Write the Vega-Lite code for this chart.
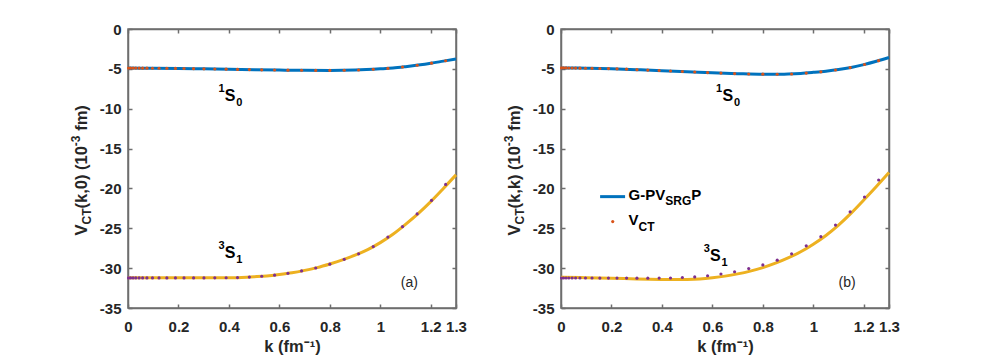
{
  "$schema": "https://vega.github.io/schema/vega-lite/v6.json",
  "padding": {"left": 69, "top": 21, "right": 5, "bottom": 5},
  "background": "white",
  "spacing": 34,
  "config": {
    "view": {"stroke": "#6e6e6e", "strokeWidth": 1.5},
    "font": "Liberation Sans",
    "axis": {
      "grid": false,
      "domain": true,
      "domainColor": "#6e6e6e",
      "domainWidth": 1.5,
      "ticks": true,
      "tickColor": "#6e6e6e",
      "tickWidth": 1.5,
      "tickSize": -4,
      "labelOverlap": false,
      "labelFlush": false,
      "labelFont": "Liberation Sans",
      "labelFontSize": 15,
      "labelFontWeight": "bold",
      "labelColor": "#262626",
      "titleFont": "Liberation Sans",
      "titleFontSize": 16.5,
      "titleFontWeight": "bold",
      "titleColor": "#262626"
    }
  },
  "datasets": {
    "curves": [
      {"panel": "a", "state": "1S0", "k": 0, "v": -4.9},
      {"panel": "a", "state": "1S0", "k": 0.1, "v": -4.92},
      {"panel": "a", "state": "1S0", "k": 0.2, "v": -4.95},
      {"panel": "a", "state": "1S0", "k": 0.3, "v": -5.0},
      {"panel": "a", "state": "1S0", "k": 0.4, "v": -5.05},
      {"panel": "a", "state": "1S0", "k": 0.5, "v": -5.1},
      {"panel": "a", "state": "1S0", "k": 0.6, "v": -5.15},
      {"panel": "a", "state": "1S0", "k": 0.7, "v": -5.19},
      {"panel": "a", "state": "1S0", "k": 0.8, "v": -5.2},
      {"panel": "a", "state": "1S0", "k": 0.9, "v": -5.15},
      {"panel": "a", "state": "1S0", "k": 1.0, "v": -5.0},
      {"panel": "a", "state": "1S0", "k": 1.05, "v": -4.9},
      {"panel": "a", "state": "1S0", "k": 1.1, "v": -4.73},
      {"panel": "a", "state": "1S0", "k": 1.15, "v": -4.53},
      {"panel": "a", "state": "1S0", "k": 1.2, "v": -4.3},
      {"panel": "a", "state": "1S0", "k": 1.25, "v": -4.03},
      {"panel": "a", "state": "1S0", "k": 1.3, "v": -3.76},
      {"panel": "a", "state": "3S1", "k": 0, "v": -31.2},
      {"panel": "a", "state": "3S1", "k": 0.2, "v": -31.2},
      {"panel": "a", "state": "3S1", "k": 0.4, "v": -31.2},
      {"panel": "a", "state": "3S1", "k": 0.45, "v": -31.16},
      {"panel": "a", "state": "3S1", "k": 0.5, "v": -31.08},
      {"panel": "a", "state": "3S1", "k": 0.55, "v": -30.98},
      {"panel": "a", "state": "3S1", "k": 0.6, "v": -30.8},
      {"panel": "a", "state": "3S1", "k": 0.65, "v": -30.58},
      {"panel": "a", "state": "3S1", "k": 0.7, "v": -30.28},
      {"panel": "a", "state": "3S1", "k": 0.75, "v": -29.93},
      {"panel": "a", "state": "3S1", "k": 0.8, "v": -29.48},
      {"panel": "a", "state": "3S1", "k": 0.85, "v": -28.97},
      {"panel": "a", "state": "3S1", "k": 0.9, "v": -28.38},
      {"panel": "a", "state": "3S1", "k": 0.95, "v": -27.68},
      {"panel": "a", "state": "3S1", "k": 1.0, "v": -26.8},
      {"panel": "a", "state": "3S1", "k": 1.05, "v": -25.75},
      {"panel": "a", "state": "3S1", "k": 1.1, "v": -24.5},
      {"panel": "a", "state": "3S1", "k": 1.15, "v": -23.15},
      {"panel": "a", "state": "3S1", "k": 1.2, "v": -21.65},
      {"panel": "a", "state": "3S1", "k": 1.25, "v": -20.0},
      {"panel": "a", "state": "3S1", "k": 1.3, "v": -18.3},
      {"panel": "b", "state": "1S0", "k": 0, "v": -4.88},
      {"panel": "b", "state": "1S0", "k": 0.1, "v": -4.92},
      {"panel": "b", "state": "1S0", "k": 0.2, "v": -4.98},
      {"panel": "b", "state": "1S0", "k": 0.3, "v": -5.1},
      {"panel": "b", "state": "1S0", "k": 0.4, "v": -5.23},
      {"panel": "b", "state": "1S0", "k": 0.5, "v": -5.36},
      {"panel": "b", "state": "1S0", "k": 0.6, "v": -5.5},
      {"panel": "b", "state": "1S0", "k": 0.7, "v": -5.6},
      {"panel": "b", "state": "1S0", "k": 0.8, "v": -5.68},
      {"panel": "b", "state": "1S0", "k": 0.85, "v": -5.69},
      {"panel": "b", "state": "1S0", "k": 0.9, "v": -5.65},
      {"panel": "b", "state": "1S0", "k": 0.95, "v": -5.57},
      {"panel": "b", "state": "1S0", "k": 1.0, "v": -5.44},
      {"panel": "b", "state": "1S0", "k": 1.05, "v": -5.29},
      {"panel": "b", "state": "1S0", "k": 1.1, "v": -5.09},
      {"panel": "b", "state": "1S0", "k": 1.15, "v": -4.82},
      {"panel": "b", "state": "1S0", "k": 1.2, "v": -4.47},
      {"panel": "b", "state": "1S0", "k": 1.25, "v": -4.05},
      {"panel": "b", "state": "1S0", "k": 1.3, "v": -3.58},
      {"panel": "b", "state": "3S1", "k": 0, "v": -31.15},
      {"panel": "b", "state": "3S1", "k": 0.1, "v": -31.2},
      {"panel": "b", "state": "3S1", "k": 0.2, "v": -31.27},
      {"panel": "b", "state": "3S1", "k": 0.3, "v": -31.35},
      {"panel": "b", "state": "3S1", "k": 0.4, "v": -31.42},
      {"panel": "b", "state": "3S1", "k": 0.45, "v": -31.44},
      {"panel": "b", "state": "3S1", "k": 0.5, "v": -31.42},
      {"panel": "b", "state": "3S1", "k": 0.55, "v": -31.35},
      {"panel": "b", "state": "3S1", "k": 0.6, "v": -31.2},
      {"panel": "b", "state": "3S1", "k": 0.65, "v": -31.0},
      {"panel": "b", "state": "3S1", "k": 0.7, "v": -30.72},
      {"panel": "b", "state": "3S1", "k": 0.75, "v": -30.37},
      {"panel": "b", "state": "3S1", "k": 0.8, "v": -29.93},
      {"panel": "b", "state": "3S1", "k": 0.85, "v": -29.38},
      {"panel": "b", "state": "3S1", "k": 0.9, "v": -28.72},
      {"panel": "b", "state": "3S1", "k": 0.95, "v": -27.95},
      {"panel": "b", "state": "3S1", "k": 1.0, "v": -27.0},
      {"panel": "b", "state": "3S1", "k": 1.05, "v": -25.9},
      {"panel": "b", "state": "3S1", "k": 1.1, "v": -24.6},
      {"panel": "b", "state": "3S1", "k": 1.15, "v": -23.1},
      {"panel": "b", "state": "3S1", "k": 1.2, "v": -21.45},
      {"panel": "b", "state": "3S1", "k": 1.25, "v": -19.75},
      {"panel": "b", "state": "3S1", "k": 1.3, "v": -18.0}
    ],
    "dots": [
      {"panel": "a", "state": "1S0", "k": 0.002, "v": -4.9},
      {"panel": "a", "state": "1S0", "k": 0.01, "v": -4.9},
      {"panel": "a", "state": "1S0", "k": 0.02, "v": -4.9},
      {"panel": "a", "state": "1S0", "k": 0.031, "v": -4.9},
      {"panel": "a", "state": "1S0", "k": 0.044, "v": -4.9},
      {"panel": "a", "state": "1S0", "k": 0.058, "v": -4.91},
      {"panel": "a", "state": "1S0", "k": 0.075, "v": -4.91},
      {"panel": "a", "state": "1S0", "k": 0.097, "v": -4.92},
      {"panel": "a", "state": "1S0", "k": 0.123, "v": -4.92},
      {"panel": "a", "state": "1S0", "k": 0.154, "v": -4.93},
      {"panel": "a", "state": "1S0", "k": 0.188, "v": -4.94},
      {"panel": "a", "state": "1S0", "k": 0.222, "v": -4.96},
      {"panel": "a", "state": "1S0", "k": 0.26, "v": -4.98},
      {"panel": "a", "state": "1S0", "k": 0.301, "v": -5.0},
      {"panel": "a", "state": "1S0", "k": 0.344, "v": -5.02},
      {"panel": "a", "state": "1S0", "k": 0.389, "v": -5.04},
      {"panel": "a", "state": "1S0", "k": 0.434, "v": -5.07},
      {"panel": "a", "state": "1S0", "k": 0.481, "v": -5.09},
      {"panel": "a", "state": "1S0", "k": 0.53, "v": -5.12},
      {"panel": "a", "state": "1S0", "k": 0.581, "v": -5.14},
      {"panel": "a", "state": "1S0", "k": 0.634, "v": -5.16},
      {"panel": "a", "state": "1S0", "k": 0.688, "v": -5.18},
      {"panel": "a", "state": "1S0", "k": 0.744, "v": -5.2},
      {"panel": "a", "state": "1S0", "k": 0.8, "v": -5.2},
      {"panel": "a", "state": "1S0", "k": 0.857, "v": -5.18},
      {"panel": "a", "state": "1S0", "k": 0.914, "v": -5.14},
      {"panel": "a", "state": "1S0", "k": 0.972, "v": -5.05},
      {"panel": "a", "state": "1S0", "k": 1.03, "v": -4.94},
      {"panel": "a", "state": "1S0", "k": 1.088, "v": -4.77},
      {"panel": "a", "state": "1S0", "k": 1.146, "v": -4.55},
      {"panel": "a", "state": "1S0", "k": 1.203, "v": -4.29},
      {"panel": "a", "state": "1S0", "k": 1.259, "v": -3.98},
      {"panel": "a", "state": "3S1", "k": 0.002, "v": -31.23},
      {"panel": "a", "state": "3S1", "k": 0.01, "v": -31.23},
      {"panel": "a", "state": "3S1", "k": 0.02, "v": -31.23},
      {"panel": "a", "state": "3S1", "k": 0.031, "v": -31.23},
      {"panel": "a", "state": "3S1", "k": 0.044, "v": -31.23},
      {"panel": "a", "state": "3S1", "k": 0.058, "v": -31.23},
      {"panel": "a", "state": "3S1", "k": 0.075, "v": -31.23},
      {"panel": "a", "state": "3S1", "k": 0.097, "v": -31.23},
      {"panel": "a", "state": "3S1", "k": 0.123, "v": -31.23},
      {"panel": "a", "state": "3S1", "k": 0.154, "v": -31.23},
      {"panel": "a", "state": "3S1", "k": 0.188, "v": -31.23},
      {"panel": "a", "state": "3S1", "k": 0.222, "v": -31.23},
      {"panel": "a", "state": "3S1", "k": 0.26, "v": -31.23},
      {"panel": "a", "state": "3S1", "k": 0.301, "v": -31.23},
      {"panel": "a", "state": "3S1", "k": 0.344, "v": -31.22},
      {"panel": "a", "state": "3S1", "k": 0.389, "v": -31.21},
      {"panel": "a", "state": "3S1", "k": 0.434, "v": -31.18},
      {"panel": "a", "state": "3S1", "k": 0.481, "v": -31.12},
      {"panel": "a", "state": "3S1", "k": 0.53, "v": -31.02},
      {"panel": "a", "state": "3S1", "k": 0.581, "v": -30.88},
      {"panel": "a", "state": "3S1", "k": 0.634, "v": -30.65},
      {"panel": "a", "state": "3S1", "k": 0.688, "v": -30.35},
      {"panel": "a", "state": "3S1", "k": 0.744, "v": -29.98},
      {"panel": "a", "state": "3S1", "k": 0.8, "v": -29.5},
      {"panel": "a", "state": "3S1", "k": 0.857, "v": -28.9},
      {"panel": "a", "state": "3S1", "k": 0.914, "v": -28.2},
      {"panel": "a", "state": "3S1", "k": 0.972, "v": -27.3},
      {"panel": "a", "state": "3S1", "k": 1.03, "v": -26.1},
      {"panel": "a", "state": "3S1", "k": 1.088, "v": -24.8},
      {"panel": "a", "state": "3S1", "k": 1.146, "v": -23.2},
      {"panel": "a", "state": "3S1", "k": 1.203, "v": -21.5},
      {"panel": "a", "state": "3S1", "k": 1.259, "v": -19.5},
      {"panel": "b", "state": "1S0", "k": 0.002, "v": -4.88},
      {"panel": "b", "state": "1S0", "k": 0.01, "v": -4.88},
      {"panel": "b", "state": "1S0", "k": 0.02, "v": -4.88},
      {"panel": "b", "state": "1S0", "k": 0.031, "v": -4.89},
      {"panel": "b", "state": "1S0", "k": 0.044, "v": -4.89},
      {"panel": "b", "state": "1S0", "k": 0.058, "v": -4.9},
      {"panel": "b", "state": "1S0", "k": 0.075, "v": -4.91},
      {"panel": "b", "state": "1S0", "k": 0.097, "v": -4.92},
      {"panel": "b", "state": "1S0", "k": 0.123, "v": -4.93},
      {"panel": "b", "state": "1S0", "k": 0.154, "v": -4.95},
      {"panel": "b", "state": "1S0", "k": 0.188, "v": -4.97},
      {"panel": "b", "state": "1S0", "k": 0.222, "v": -5.0},
      {"panel": "b", "state": "1S0", "k": 0.26, "v": -5.04},
      {"panel": "b", "state": "1S0", "k": 0.301, "v": -5.1},
      {"panel": "b", "state": "1S0", "k": 0.344, "v": -5.15},
      {"panel": "b", "state": "1S0", "k": 0.389, "v": -5.21},
      {"panel": "b", "state": "1S0", "k": 0.434, "v": -5.27},
      {"panel": "b", "state": "1S0", "k": 0.481, "v": -5.33},
      {"panel": "b", "state": "1S0", "k": 0.53, "v": -5.39},
      {"panel": "b", "state": "1S0", "k": 0.581, "v": -5.47},
      {"panel": "b", "state": "1S0", "k": 0.634, "v": -5.53},
      {"panel": "b", "state": "1S0", "k": 0.688, "v": -5.59},
      {"panel": "b", "state": "1S0", "k": 0.744, "v": -5.64},
      {"panel": "b", "state": "1S0", "k": 0.8, "v": -5.67},
      {"panel": "b", "state": "1S0", "k": 0.857, "v": -5.68},
      {"panel": "b", "state": "1S0", "k": 0.914, "v": -5.64},
      {"panel": "b", "state": "1S0", "k": 0.972, "v": -5.53},
      {"panel": "b", "state": "1S0", "k": 1.03, "v": -5.37},
      {"panel": "b", "state": "1S0", "k": 1.088, "v": -5.14},
      {"panel": "b", "state": "1S0", "k": 1.146, "v": -4.84},
      {"panel": "b", "state": "1S0", "k": 1.203, "v": -4.45},
      {"panel": "b", "state": "1S0", "k": 1.259, "v": -3.97},
      {"panel": "b", "state": "3S1", "k": 0.002, "v": -31.24},
      {"panel": "b", "state": "3S1", "k": 0.01, "v": -31.24},
      {"panel": "b", "state": "3S1", "k": 0.02, "v": -31.24},
      {"panel": "b", "state": "3S1", "k": 0.031, "v": -31.24},
      {"panel": "b", "state": "3S1", "k": 0.044, "v": -31.24},
      {"panel": "b", "state": "3S1", "k": 0.058, "v": -31.24},
      {"panel": "b", "state": "3S1", "k": 0.075, "v": -31.24},
      {"panel": "b", "state": "3S1", "k": 0.097, "v": -31.24},
      {"panel": "b", "state": "3S1", "k": 0.123, "v": -31.24},
      {"panel": "b", "state": "3S1", "k": 0.154, "v": -31.25},
      {"panel": "b", "state": "3S1", "k": 0.188, "v": -31.25},
      {"panel": "b", "state": "3S1", "k": 0.222, "v": -31.25},
      {"panel": "b", "state": "3S1", "k": 0.26, "v": -31.25},
      {"panel": "b", "state": "3S1", "k": 0.301, "v": -31.26},
      {"panel": "b", "state": "3S1", "k": 0.344, "v": -31.26},
      {"panel": "b", "state": "3S1", "k": 0.389, "v": -31.25},
      {"panel": "b", "state": "3S1", "k": 0.434, "v": -31.24},
      {"panel": "b", "state": "3S1", "k": 0.481, "v": -31.17},
      {"panel": "b", "state": "3S1", "k": 0.53, "v": -31.1},
      {"panel": "b", "state": "3S1", "k": 0.581, "v": -30.95},
      {"panel": "b", "state": "3S1", "k": 0.634, "v": -30.73},
      {"panel": "b", "state": "3S1", "k": 0.688, "v": -30.45},
      {"panel": "b", "state": "3S1", "k": 0.744, "v": -30.06},
      {"panel": "b", "state": "3S1", "k": 0.8, "v": -29.6},
      {"panel": "b", "state": "3S1", "k": 0.857, "v": -29.0},
      {"panel": "b", "state": "3S1", "k": 0.914, "v": -28.2},
      {"panel": "b", "state": "3S1", "k": 0.972, "v": -27.2},
      {"panel": "b", "state": "3S1", "k": 1.03, "v": -26.05},
      {"panel": "b", "state": "3S1", "k": 1.088, "v": -24.6},
      {"panel": "b", "state": "3S1", "k": 1.146, "v": -22.94},
      {"panel": "b", "state": "3S1", "k": 1.203, "v": -21.07},
      {"panel": "b", "state": "3S1", "k": 1.259, "v": -18.94}
    ],
    "notes": [
      {"panel": "a", "k": 0.405, "v": -8.36, "main": "S", "sup": "1", "sub": "0"},
      {"panel": "a", "k": 0.405, "v": -28.14, "main": "S", "sup": "3", "sub": "1"},
      {"panel": "b", "k": 0.661, "v": -8.39, "main": "S", "sup": "1", "sub": "0"},
      {"panel": "b", "k": 0.612, "v": -28.45, "main": "S", "sup": "3", "sub": "1"}
    ],
    "tags": [
      {"panel": "a", "k": 1.115, "v": -31.9, "text": "(a)"},
      {"panel": "b", "k": 1.134, "v": -31.9, "text": "(b)"}
    ],
    "ytitle": [
      {"panel": "a", "k": -0.163, "v": -25.91, "p1": "V", "p2": "CT", "p3": "(k,0) (10", "p4": "-3", "p5": "fm)"},
      {"panel": "b", "k": -0.163, "v": -25.91, "p1": "V", "p2": "CT", "p3": "(k,k) (10", "p4": "-3", "p5": "fm)"}
    ],
    "legline": [
      {"k": 0.155, "v": -21.03},
      {"k": 0.254, "v": -21.03}
    ],
    "legdot": [
      {"k": 0.205, "v": -24.16}
    ],
    "legtext": [
      {"k": 0.268, "v": -20.82, "a": "G-PV", "b": "SRG", "c": "P"},
      {"k": 0.268, "v": -23.91, "a": "V", "b": "CT", "c": ""}
    ]
  },
  "hconcat": [
    {
      "width": 328,
      "height": 279,
      "resolve": {"axis": {"x": "independent", "y": "independent"}},
      "layer": [
        {
          "data": {"name": "curves"},
          "transform": [{"filter": "datum.panel == 'a'"}],
          "mark": {"type": "line", "strokeWidth": 3, "interpolate": "monotone"},
          "encoding": {
            "x": {"field": "k", "type": "quantitative", "scale": {"domain": [0, 1.3], "nice": false, "zero": false},
              "axis": {"orient": "bottom", "values": [0, 0.2, 0.4, 0.6, 0.8, 1, 1.2, 1.3], "labelExpr": "toString(datum.value)", "labelPadding": 15, "title": "k (fm⁻¹)", "titlePadding": 4}},
            "y": {"field": "v", "type": "quantitative", "scale": {"domain": [-35, 0], "nice": false, "zero": false},
              "axis": {"orient": "left", "values": [-35, -30, -25, -20, -15, -10, -5, 0], "labelExpr": "toString(datum.value)", "labelPadding": 11, "title": null}},
            "stroke": {"field": "state", "type": "nominal", "scale": {"domain": ["1S0", "3S1"], "range": ["#0072BD", "#EDB120"]}, "legend": null}
          }
        },
        {
          "data": {"name": "dots"},
          "transform": [{"filter": "datum.panel == 'a'"}],
          "mark": {"type": "point", "filled": true, "size": 10, "opacity": 1},
          "encoding": {
            "x": {"field": "k", "type": "quantitative", "axis": null},
            "y": {"field": "v", "type": "quantitative", "axis": null},
            "fill": {"field": "state", "type": "nominal", "scale": {"domain": ["1S0", "3S1"], "range": ["#D95319", "#7E2F8E"]}, "legend": null}
          }
        },
        {
          "data": {"name": "curves"},
          "transform": [{"filter": "datum.panel == 'a'"}],
          "mark": {"type": "point", "opacity": 0},
          "encoding": {
            "x": {"field": "k", "type": "quantitative",
              "axis": {"orient": "top", "values": [0, 0.2, 0.4, 0.6, 0.8, 1, 1.2, 1.3], "labels": false, "title": null}},
            "y": {"field": "v", "type": "quantitative",
              "axis": {"orient": "right", "values": [-35, -30, -25, -20, -15, -10, -5, 0], "labels": false, "title": null}}
          }
        },
        {
          "data": {"name": "notes"},
          "transform": [{"filter": "datum.panel == 'a'"}],
          "mark": {"type": "text", "fontSize": 16, "fontWeight": "bold", "color": "#000000", "align": "center", "baseline": "middle"},
          "encoding": {
            "x": {"field": "k", "type": "quantitative", "axis": null},
            "y": {"field": "v", "type": "quantitative", "axis": null},
            "text": {"field": "main"}
          }
        },
        {
          "data": {"name": "notes"},
          "transform": [{"filter": "datum.panel == 'a'"}],
          "mark": {"type": "text", "fontSize": 11, "fontWeight": "bold", "color": "#000000", "align": "center", "baseline": "middle", "dx": -8.7, "dy": -7},
          "encoding": {
            "x": {"field": "k", "type": "quantitative", "axis": null},
            "y": {"field": "v", "type": "quantitative", "axis": null},
            "text": {"field": "sup"}
          }
        },
        {
          "data": {"name": "notes"},
          "transform": [{"filter": "datum.panel == 'a'"}],
          "mark": {"type": "text", "fontSize": 11, "fontWeight": "bold", "color": "#000000", "align": "center", "baseline": "middle", "dx": 9.2, "dy": 7},
          "encoding": {
            "x": {"field": "k", "type": "quantitative", "axis": null},
            "y": {"field": "v", "type": "quantitative", "axis": null},
            "text": {"field": "sub"}
          }
        },
        {
          "data": {"name": "tags"},
          "transform": [{"filter": "datum.panel == 'a'"}],
          "mark": {"type": "text", "fontSize": 14, "color": "#262626", "align": "center", "baseline": "middle"},
          "encoding": {
            "x": {"field": "k", "type": "quantitative", "axis": null},
            "y": {"field": "v", "type": "quantitative", "axis": null},
            "text": {"field": "text"}
          }
        },
        {
          "data": {"name": "ytitle"},
          "transform": [{"filter": "datum.panel == 'a'"}],
          "mark": {"type": "text", "fontSize": 16.5, "fontWeight": "bold", "color": "#262626", "align": "left", "baseline": "alphabetic", "angle": 270},
          "encoding": {
            "x": {"field": "k", "type": "quantitative", "axis": null},
            "y": {"field": "v", "type": "quantitative", "axis": null},
            "text": {"field": "p1"}
          }
        },
        {
          "data": {"name": "ytitle"},
          "transform": [{"filter": "datum.panel == 'a'"}],
          "mark": {"type": "text", "fontSize": 12, "fontWeight": "bold", "color": "#262626", "align": "left", "baseline": "alphabetic", "angle": 270, "dx": 11, "dy": 4},
          "encoding": {
            "x": {"field": "k", "type": "quantitative", "axis": null},
            "y": {"field": "v", "type": "quantitative", "axis": null},
            "text": {"field": "p2"}
          }
        },
        {
          "data": {"name": "ytitle"},
          "transform": [{"filter": "datum.panel == 'a'"}],
          "mark": {"type": "text", "fontSize": 16.5, "fontWeight": "bold", "color": "#262626", "align": "left", "baseline": "alphabetic", "angle": 270, "dx": 27},
          "encoding": {
            "x": {"field": "k", "type": "quantitative", "axis": null},
            "y": {"field": "v", "type": "quantitative", "axis": null},
            "text": {"field": "p3"}
          }
        },
        {
          "data": {"name": "ytitle"},
          "transform": [{"filter": "datum.panel == 'a'"}],
          "mark": {"type": "text", "fontSize": 12, "fontWeight": "bold", "color": "#262626", "align": "left", "baseline": "alphabetic", "angle": 270, "dx": 89.4, "dy": -7},
          "encoding": {
            "x": {"field": "k", "type": "quantitative", "axis": null},
            "y": {"field": "v", "type": "quantitative", "axis": null},
            "text": {"field": "p4"}
          }
        },
        {
          "data": {"name": "ytitle"},
          "transform": [{"filter": "datum.panel == 'a'"}],
          "mark": {"type": "text", "fontSize": 16.5, "fontWeight": "bold", "color": "#262626", "align": "left", "baseline": "alphabetic", "angle": 270, "dx": 104.7},
          "encoding": {
            "x": {"field": "k", "type": "quantitative", "axis": null},
            "y": {"field": "v", "type": "quantitative", "axis": null},
            "text": {"field": "p5"}
          }
        }
      ]
    },
    {
      "width": 328,
      "height": 279,
      "resolve": {"axis": {"x": "independent", "y": "independent"}},
      "layer": [
        {
          "data": {"name": "curves"},
          "transform": [{"filter": "datum.panel == 'b'"}],
          "mark": {"type": "line", "strokeWidth": 3, "interpolate": "monotone"},
          "encoding": {
            "x": {"field": "k", "type": "quantitative", "scale": {"domain": [0, 1.3], "nice": false, "zero": false},
              "axis": {"orient": "bottom", "values": [0, 0.2, 0.4, 0.6, 0.8, 1, 1.2, 1.3], "labelExpr": "toString(datum.value)", "labelPadding": 15, "title": "k (fm⁻¹)", "titlePadding": 4}},
            "y": {"field": "v", "type": "quantitative", "scale": {"domain": [-35, 0], "nice": false, "zero": false},
              "axis": {"orient": "left", "values": [-35, -30, -25, -20, -15, -10, -5, 0], "labelExpr": "toString(datum.value)", "labelPadding": 11, "title": null}},
            "stroke": {"field": "state", "type": "nominal", "scale": {"domain": ["1S0", "3S1"], "range": ["#0072BD", "#EDB120"]}, "legend": null}
          }
        },
        {
          "data": {"name": "dots"},
          "transform": [{"filter": "datum.panel == 'b'"}],
          "mark": {"type": "point", "filled": true, "size": 10, "opacity": 1},
          "encoding": {
            "x": {"field": "k", "type": "quantitative", "axis": null},
            "y": {"field": "v", "type": "quantitative", "axis": null},
            "fill": {"field": "state", "type": "nominal", "scale": {"domain": ["1S0", "3S1"], "range": ["#D95319", "#7E2F8E"]}, "legend": null}
          }
        },
        {
          "data": {"name": "curves"},
          "transform": [{"filter": "datum.panel == 'b'"}],
          "mark": {"type": "point", "opacity": 0},
          "encoding": {
            "x": {"field": "k", "type": "quantitative",
              "axis": {"orient": "top", "values": [0, 0.2, 0.4, 0.6, 0.8, 1, 1.2, 1.3], "labels": false, "title": null}},
            "y": {"field": "v", "type": "quantitative",
              "axis": {"orient": "right", "values": [-35, -30, -25, -20, -15, -10, -5, 0], "labels": false, "title": null}}
          }
        },
        {
          "data": {"name": "notes"},
          "transform": [{"filter": "datum.panel == 'b'"}],
          "mark": {"type": "text", "fontSize": 16, "fontWeight": "bold", "color": "#000000", "align": "center", "baseline": "middle"},
          "encoding": {
            "x": {"field": "k", "type": "quantitative", "axis": null},
            "y": {"field": "v", "type": "quantitative", "axis": null},
            "text": {"field": "main"}
          }
        },
        {
          "data": {"name": "notes"},
          "transform": [{"filter": "datum.panel == 'b'"}],
          "mark": {"type": "text", "fontSize": 11, "fontWeight": "bold", "color": "#000000", "align": "center", "baseline": "middle", "dx": -8.7, "dy": -7},
          "encoding": {
            "x": {"field": "k", "type": "quantitative", "axis": null},
            "y": {"field": "v", "type": "quantitative", "axis": null},
            "text": {"field": "sup"}
          }
        },
        {
          "data": {"name": "notes"},
          "transform": [{"filter": "datum.panel == 'b'"}],
          "mark": {"type": "text", "fontSize": 11, "fontWeight": "bold", "color": "#000000", "align": "center", "baseline": "middle", "dx": 9.2, "dy": 7},
          "encoding": {
            "x": {"field": "k", "type": "quantitative", "axis": null},
            "y": {"field": "v", "type": "quantitative", "axis": null},
            "text": {"field": "sub"}
          }
        },
        {
          "data": {"name": "tags"},
          "transform": [{"filter": "datum.panel == 'b'"}],
          "mark": {"type": "text", "fontSize": 14, "color": "#262626", "align": "center", "baseline": "middle"},
          "encoding": {
            "x": {"field": "k", "type": "quantitative", "axis": null},
            "y": {"field": "v", "type": "quantitative", "axis": null},
            "text": {"field": "text"}
          }
        },
        {
          "data": {"name": "ytitle"},
          "transform": [{"filter": "datum.panel == 'b'"}],
          "mark": {"type": "text", "fontSize": 16.5, "fontWeight": "bold", "color": "#262626", "align": "left", "baseline": "alphabetic", "angle": 270},
          "encoding": {
            "x": {"field": "k", "type": "quantitative", "axis": null},
            "y": {"field": "v", "type": "quantitative", "axis": null},
            "text": {"field": "p1"}
          }
        },
        {
          "data": {"name": "ytitle"},
          "transform": [{"filter": "datum.panel == 'b'"}],
          "mark": {"type": "text", "fontSize": 12, "fontWeight": "bold", "color": "#262626", "align": "left", "baseline": "alphabetic", "angle": 270, "dx": 11, "dy": 4},
          "encoding": {
            "x": {"field": "k", "type": "quantitative", "axis": null},
            "y": {"field": "v", "type": "quantitative", "axis": null},
            "text": {"field": "p2"}
          }
        },
        {
          "data": {"name": "ytitle"},
          "transform": [{"filter": "datum.panel == 'b'"}],
          "mark": {"type": "text", "fontSize": 16.5, "fontWeight": "bold", "color": "#262626", "align": "left", "baseline": "alphabetic", "angle": 270, "dx": 27},
          "encoding": {
            "x": {"field": "k", "type": "quantitative", "axis": null},
            "y": {"field": "v", "type": "quantitative", "axis": null},
            "text": {"field": "p3"}
          }
        },
        {
          "data": {"name": "ytitle"},
          "transform": [{"filter": "datum.panel == 'b'"}],
          "mark": {"type": "text", "fontSize": 12, "fontWeight": "bold", "color": "#262626", "align": "left", "baseline": "alphabetic", "angle": 270, "dx": 89.4, "dy": -7},
          "encoding": {
            "x": {"field": "k", "type": "quantitative", "axis": null},
            "y": {"field": "v", "type": "quantitative", "axis": null},
            "text": {"field": "p4"}
          }
        },
        {
          "data": {"name": "ytitle"},
          "transform": [{"filter": "datum.panel == 'b'"}],
          "mark": {"type": "text", "fontSize": 16.5, "fontWeight": "bold", "color": "#262626", "align": "left", "baseline": "alphabetic", "angle": 270, "dx": 104.7},
          "encoding": {
            "x": {"field": "k", "type": "quantitative", "axis": null},
            "y": {"field": "v", "type": "quantitative", "axis": null},
            "text": {"field": "p5"}
          }
        },
        {
          "data": {"name": "legline"},
          "mark": {"type": "line", "strokeWidth": 3, "color": "#0072BD"},
          "encoding": {
            "x": {"field": "k", "type": "quantitative", "axis": null},
            "y": {"field": "v", "type": "quantitative", "axis": null}
          }
        },
        {
          "data": {"name": "legdot"},
          "mark": {"type": "point", "filled": true, "size": 10, "opacity": 1, "color": "#D95319"},
          "encoding": {
            "x": {"field": "k", "type": "quantitative", "axis": null},
            "y": {"field": "v", "type": "quantitative", "axis": null}
          }
        },
        {
          "data": {"name": "legtext"},
          "mark": {"type": "text", "fontSize": 15, "fontWeight": "bold", "color": "#000000", "align": "left", "baseline": "middle"},
          "encoding": {
            "x": {"field": "k", "type": "quantitative", "axis": null},
            "y": {"field": "v", "type": "quantitative", "axis": null},
            "text": {"field": "a"}
          }
        },
        {
          "data": {"name": "legtext"},
          "transform": [{"filter": "datum.a == 'G-PV'"}],
          "mark": {"type": "text", "fontSize": 12, "fontWeight": "bold", "color": "#000000", "align": "left", "baseline": "middle", "dx": 36.7, "dy": 6},
          "encoding": {
            "x": {"field": "k", "type": "quantitative", "axis": null},
            "y": {"field": "v", "type": "quantitative", "axis": null},
            "text": {"field": "b"}
          }
        },
        {
          "data": {"name": "legtext"},
          "transform": [{"filter": "datum.a == 'G-PV'"}],
          "mark": {"type": "text", "fontSize": 15, "fontWeight": "bold", "color": "#000000", "align": "left", "baseline": "middle", "dx": 62.7},
          "encoding": {
            "x": {"field": "k", "type": "quantitative", "axis": null},
            "y": {"field": "v", "type": "quantitative", "axis": null},
            "text": {"field": "c"}
          }
        },
        {
          "data": {"name": "legtext"},
          "transform": [{"filter": "datum.a == 'V'"}],
          "mark": {"type": "text", "fontSize": 12, "fontWeight": "bold", "color": "#000000", "align": "left", "baseline": "middle", "dx": 10, "dy": 7},
          "encoding": {
            "x": {"field": "k", "type": "quantitative", "axis": null},
            "y": {"field": "v", "type": "quantitative", "axis": null},
            "text": {"field": "b"}
          }
        }
      ]
    }
  ]
}
